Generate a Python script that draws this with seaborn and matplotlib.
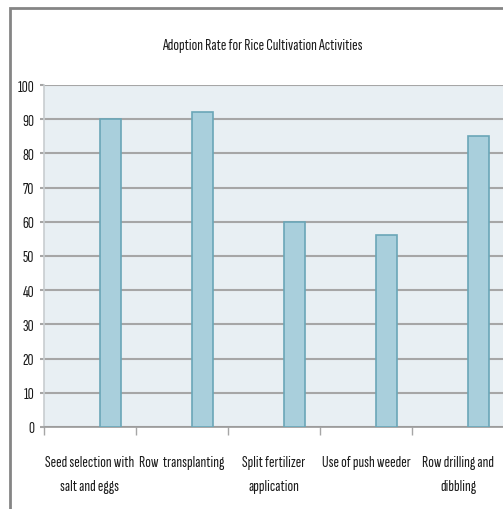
import matplotlib
matplotlib.use("Agg")
import matplotlib.pyplot as plt
from matplotlib.patches import Rectangle
from matplotlib.ticker import FixedLocator, MultipleLocator
import pandas as pd
import seaborn as sns

# Adoption rate (%) per rice cultivation practice
categories = [
    "Seed selection with\nsalt and eggs",
    "Row  transplanting",
    "Split fertilizer\napplication",
    "Use of push weeder",
    "Row drilling and\ndibbling",
]
adoption = [90, 92, 60, 56, 85]
series_order = ["s1", "s2", "Adoption rate"]
y_ticks = list(range(0, 101, 10))

df = pd.DataFrame({"activity": categories, "rate": adoption,
                   "series": "Adoption rate"})

sns.set_style("white")
plt.rcParams["font.family"] = ["Sofia Sans Extra Condensed", "DejaVu Sans"]
FS = 12.0
TEXT = "#1a1a1a"

W, H = 503, 510
fig = plt.figure(figsize=(W / 100, H / 100), dpi=100)
ax = fig.add_axes([44 / W, 82 / H, 460 / W, 342 / H])

bar_fill = "#a9cfdc"
bar_edge = "#6aa6b7"
sns.barplot(data=df, x="activity", y="rate", hue="series",
            hue_order=series_order, order=categories,
            palette={"s1": bar_fill, "s2": bar_fill, "Adoption rate": bar_fill},
            width=0.667, gap=0, dodge=True, legend=False,
            edgecolor=bar_edge, linewidth=1.2, saturation=1, ax=ax, zorder=3)

ax.set_facecolor("#e8eff3")
ax.set_xlim(-0.5, len(categories) - 0.5)
ax.set_ylim(0, 100)
ax.yaxis.set_major_locator(FixedLocator(y_ticks))
ax.set_yticklabels([str(t) for t in y_ticks])
ax.grid(axis="y", color="#a6a6a6", linewidth=1.5, zorder=1)
ax.set_axisbelow(True)

# category labels at centres, tick marks on the boundaries
ax.xaxis.set_minor_locator(MultipleLocator(1, offset=0.5))
ax.tick_params(axis="x", which="major", length=0, pad=20, labelsize=FS,
               colors=TEXT)
ax.tick_params(axis="x", which="minor", length=6, width=1.0, color="#a6a6a6",
               direction="out", bottom=True)
ax.tick_params(axis="y", length=3, width=1.5, color="#a6a6a6", pad=4,
               labelsize=FS, labelcolor=TEXT, left=True)
for lbl in ax.get_xticklabels():
    lbl.set_linespacing(1.95)

for side in ("top", "right"):
    ax.spines[side].set_visible(False)
ax.spines["left"].set_color("#c8cdd0")
ax.spines["left"].set_linewidth(1.2)
ax.spines["bottom"].set_color("#9a9a9a")
ax.spines["bottom"].set_linewidth(1.2)
ax.set_xlabel("")
ax.set_ylabel("")

fig.text(262 / W, 1 - 46 / H, "Adoption Rate for Rice Cultivation Activities",
         ha="center", va="center", fontsize=FS, color=TEXT)

# chart frame
fig.patches.append(Rectangle((9.5 / W, -0.05), 1.2, 1 - 9 / H + 0.05,
                             transform=fig.transFigure, fill=False,
                             edgecolor="#858585", linewidth=2.0))

fig.savefig("out.png", dpi=100, facecolor="white")
